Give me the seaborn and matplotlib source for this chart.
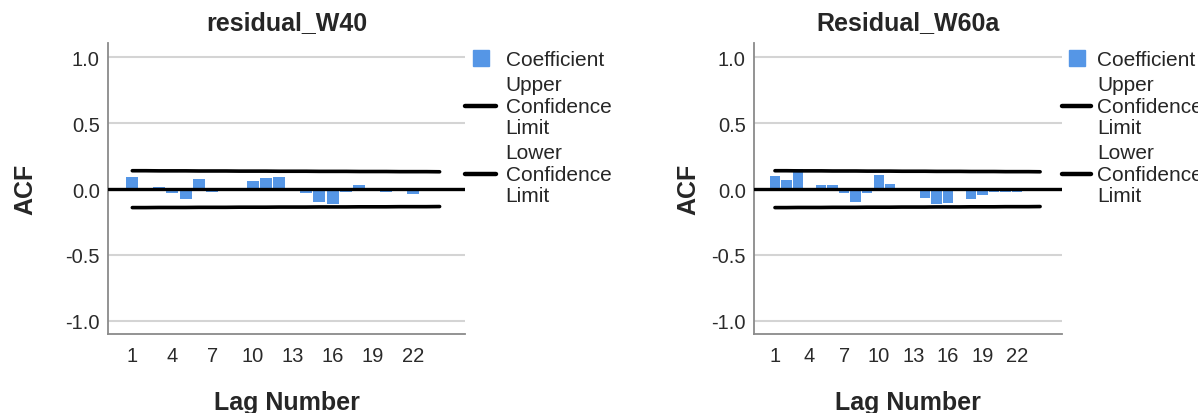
import matplotlib
matplotlib.use("Agg")
import matplotlib.pyplot as plt
import seaborn as sns
import pandas as pd
from matplotlib.lines import Line2D

# ---- data ----
lags = list(range(1, 25))
acf_w40 = [0.09, 0.00, 0.02, -0.03, -0.075, 0.075, -0.018, 0.0, 0.0, 0.065, 0.085, 0.095,
           -0.005, -0.03, -0.095, -0.11, -0.025, 0.03, 0.0, -0.02, 0.0, -0.035, 0.0, 0.0]
acf_w60a = [0.10, 0.07, 0.15, 0.0, 0.03, 0.03, -0.03, -0.10, -0.03, 0.11, 0.04, 0.0,
            0.0, -0.07, -0.11, -0.107, -0.01, -0.076, -0.048, -0.025, -0.025, -0.025, 0.0, 0.0]
upper_limit = [0.140, 0.140, 0.139, 0.139, 0.139, 0.138, 0.138, 0.138, 0.137, 0.137, 0.137, 0.136,
               0.136, 0.136, 0.135, 0.135, 0.135, 0.134, 0.134, 0.134, 0.133, 0.133, 0.133, 0.132]
lower_limit = [-0.140, -0.140, -0.139, -0.139, -0.139, -0.138, -0.138, -0.138, -0.137, -0.137, -0.137, -0.136,
               -0.136, -0.136, -0.135, -0.135, -0.135, -0.134, -0.134, -0.134, -0.133, -0.133, -0.133, -0.132]
titles = ["residual_W40", "Residual_W60a"]
y_ticks = [-1.0, -0.5, 0.0, 0.5, 1.0]
x_ticks = [1, 4, 7, 10, 13, 16, 19, 22]
legend_labels = ["Coefficient", "Upper\nConfidence\nLimit", "Lower\nConfidence\nLimit"]

BLUE = "#5596e6"

sns.set_style("white")
plt.rcParams['font.family'] = ['Liberation Sans', 'DejaVu Sans']
plt.rcParams['axes.unicode_minus'] = False

W, H = 1198, 414
fig = plt.figure(figsize=(W / 100, H / 100), dpi=100)
rects = [[108 / W, 79 / H, 357 / W, 291 / H],
         [754 / W, 79 / H, 308 / W, 291 / H]]
ylabel_pads = [20, 8]
legend_fmt = [dict(handlelength=1.5, handletextpad=0.45),
              dict(handlelength=1.4, handletextpad=0.3)]

for rect, title, acf, ypad, lfmt in zip(rects, titles, [acf_w40, acf_w60a], ylabel_pads, legend_fmt):
    ax = fig.add_axes(rect)
    df = pd.DataFrame({"lag": lags, "acf": acf, "upper": upper_limit, "lower": lower_limit})
    sns.barplot(data=df, x="lag", y="acf", native_scale=True, color=BLUE, saturation=1,
                width=0.9, linewidth=0, ax=ax, zorder=2)
    sns.lineplot(data=df, x="lag", y="upper", color="black", lw=2.6, ax=ax, zorder=3)
    sns.lineplot(data=df, x="lag", y="lower", color="black", lw=2.6, ax=ax, zorder=3)
    ax.axhline(0, color="black", lw=2.4, zorder=3)

    ax.set_xlim(-0.82, 25.9)
    ax.set_ylim(-1.1, 1.11)
    ax.set_xticks(x_ticks)
    ax.set_xticklabels([str(t) for t in x_ticks])
    ax.set_yticks(y_ticks)
    ax.set_yticklabels([f"{t:.1f}" for t in y_ticks])
    ax.yaxis.grid(True, color="#d4d4d4", lw=1.5)
    ax.xaxis.grid(False)
    ax.set_axisbelow(True)
    for s in ["top", "right"]:
        ax.spines[s].set_visible(False)
    for s in ["left", "bottom"]:
        ax.spines[s].set_color("#8a8a8a")
        ax.spines[s].set_linewidth(1.3)
    ax.tick_params(length=0, labelsize=14.5, labelcolor="#2a2a2a")
    ax.tick_params(axis="y", pad=6)
    ax.tick_params(axis="x", pad=9)

    ax.set_title(title, fontsize=18, fontweight="bold", pad=10)
    ax.set_xlabel("Lag Number", fontsize=18, fontweight="bold", labelpad=18)
    ax.set_ylabel("ACF", fontsize=18, fontweight="bold", labelpad=ypad)

    handles = [Line2D([], [], marker="s", ls="", color=BLUE, markersize=11),
               Line2D([], [], color="black", lw=3.2),
               Line2D([], [], color="black", lw=3.2)]
    leg = ax.legend(handles, legend_labels, loc="upper left",
                    bbox_to_anchor=(1.0, 1.0 - 7 / 291),
                    frameon=False, fontsize=15, labelspacing=0.3,
                    borderaxespad=0, borderpad=0, **lfmt)
    for t in leg.get_texts():
        t.set_linespacing(1.16)

fig.savefig("out.png", dpi=100)
